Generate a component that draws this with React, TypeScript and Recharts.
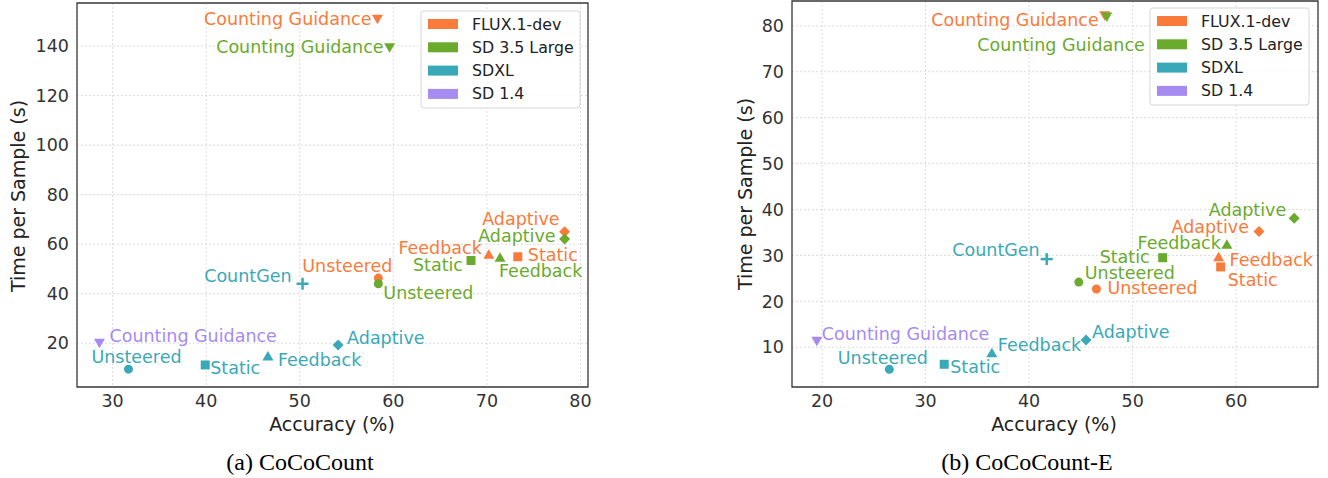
import React from "react";
import {
  ScatterChart,
  Scatter,
  XAxis,
  YAxis,
  CartesianGrid,
  ReferenceArea,
} from "recharts";

// method names per model
const methodsMain = ["Unsteered", "Static", "Feedback", "Adaptive", "Counting Guidance"];
const methodsSdxl = ["Unsteered", "Static", "Feedback", "Adaptive", "CountGen"];
const methodsSd14 = ["Counting Guidance"];

// (a) CoCoCount
const fluxAccA = [58.4, 73.3, 70.2, 78.3, 58.3];
const fluxTimeA = [46.3, 54.9, 55.7, 65.0, 151.0];
const sd35AccA = [58.4, 68.3, 71.4, 78.3, 59.6];
const sd35TimeA = [44.0, 53.4, 54.5, 62.1, 139.5];
const sdxlAccA = [31.7, 39.9, 46.6, 54.1, 50.3];
const sdxlTimeA = [9.5, 11.2, 14.6, 19.3, 44.0];
const sd14AccA = [28.6];
const sd14TimeA = [20.2];

// (b) CoCoCount-E
const fluxAccB = [46.5, 58.5, 58.3, 62.2, 47.3];
const fluxTimeB = [22.7, 27.5, 29.6, 35.2, 82.3];
const sd35AccB = [44.8, 52.9, 59.1, 65.6, 47.5];
const sd35TimeB = [24.2, 29.5, 32.3, 38.1, 82.0];
const sdxlAccB = [26.5, 31.8, 36.4, 45.5, 41.7];
const sdxlTimeB = [5.2, 6.3, 8.7, 11.6, 29.2];
const sd14AccB = [19.5];
const sd14TimeB = [11.4];

const xTicksA = [30, 40, 50, 60, 70, 80];
const yTicksA = [20, 40, 60, 80, 100, 120, 140];
const xTicksB = [20, 30, 40, 50, 60];
const yTicksB = [10, 20, 30, 40, 50, 60, 70, 80];

const models = ["FLUX.1-dev", "SD 3.5 Large", "SDXL", "SD 1.4"];
const colors = ["#F97B3B", "#6AAA2D", "#3AA9B7", "#A68BF2"];

// label placement: [dx, dy, anchor]
type Lab = [number, number, "start" | "middle" | "end"];
const fluxLabA: Lab[] = [[14, -12, "end"], [10, -2, "start"], [-7, -7, "end"], [-5, -13, "end"], [-6, 0, "end"]];
const sd35LabA: Lab[] = [[5, 9, "start"], [-8, 5, "end"], [-1, 13, "start"], [-9, -3, "end"], [-6, 0, "end"]];
const sdxlLabA: Lab[] = [[8, -12, "middle"], [5, 3, "start"], [10, 3, "start"], [9, -7, "start"], [-11, -8, "end"]];
const sd14LabA: Lab[] = [[10, -7, "start"]];
const fluxLabB: Lab[] = [[11, -1, "start"], [7, 13, "start"], [11, 3, "start"], [-10, -5, "end"], [-6, 5, "end"]];
const sd35LabB: Lab[] = [[6, -9, "start"], [-13, -1, "end"], [-6, -2, "end"], [-8, -8, "end"], [38, 28, "end"]];
const sdxlLabB: Lab[] = [[-6.5, -11, "middle"], [6, 3, "start"], [6, -8, "start"], [6, -8, "start"], [-7, -9, "end"]];
const sd14LabB: Lab[] = [[5, -7, "start"]];

const FONT = "DejaVu Sans";

function build(methods: string[], acc: number[], time: number[], labs: Lab[]) {
  return methods.map((m, i) => ({
    x: acc[i],
    y: time[i],
    method: m,
    dx: labs[i][0],
    dy: labs[i][1],
    anchor: labs[i][2],
  }));
}

function marker(method: string, cx: number, cy: number, color: string) {
  switch (method) {
    case "Unsteered":
      return <circle cx={cx} cy={cy} r={4.5} fill={color} />;
    case "Static":
      return <rect x={cx - 4.5} y={cy - 4.5} width={9} height={9} fill={color} />;
    case "Feedback":
      return (
        <polygon
          points={`${cx},${cy - 5.5} ${cx + 5.5},${cy + 4} ${cx - 5.5},${cy + 4}`}
          fill={color}
        />
      );
    case "Adaptive":
      return (
        <polygon
          points={`${cx},${cy - 5.5} ${cx + 5.5},${cy} ${cx},${cy + 5.5} ${cx - 5.5},${cy}`}
          fill={color}
        />
      );
    case "CountGen":
      return (
        <g stroke={color} strokeWidth={2.5}>
          <line x1={cx - 6} y1={cy} x2={cx + 6} y2={cy} />
          <line x1={cx} y1={cy - 6} x2={cx} y2={cy + 6} />
        </g>
      );
    default:
      return (
        <polygon
          points={`${cx - 5.5},${cy - 4} ${cx + 5.5},${cy - 4} ${cx},${cy + 5.5}`}
          fill={color}
        />
      );
  }
}

function makeShape(color: string) {
  return (props: any) => {
    const { cx, cy, payload } = props;
    return (
      <g>
        {marker(payload.method, cx, cy, color)}
        <text
          x={cx + payload.dx}
          y={cy + payload.dy}
          textAnchor={payload.anchor}
          dominantBaseline="central"
          fill={color}
          fontSize={17.5}
          fontFamily={FONT}
        >
          {payload.method}
        </text>
      </g>
    );
  };
}

interface PanelProps {
  left: number;
  width: number;
  top: number;
  right: number;
  xDomain: [number, number];
  yDomain: [number, number];
  xTicks: number[];
  yTicks: number[];
  series: any[][];
}

function Panel({ left, width, top, right, xDomain, yDomain, xTicks, yTicks, series }: PanelProps) {
  return (
    <div style={{ position: "absolute", left: left, top: 0 }}>
      <ScatterChart
        width={width}
        height={478}
        margin={{ top: top, right: right, left: left === 0 ? 17 : 12, bottom: 61 }}
      >
        <CartesianGrid stroke="#dcdcdc" strokeDasharray="2 2" />
        <XAxis
          type="number"
          dataKey="x"
          domain={xDomain}
          ticks={xTicks}
          allowDataOverflow
          height={30}
          axisLine={false}
          tickLine={false}
          tickSize={6}
          tickMargin={2}
          tick={{ fontSize: 17.5, fill: "#333", fontFamily: FONT }}
        />
        <YAxis
          type="number"
          dataKey="y"
          domain={yDomain}
          ticks={yTicks}
          allowDataOverflow
          width={60}
          axisLine={false}
          tickLine={false}
          tickSize={5}
          tickMargin={3}
          tick={{ fontSize: 17.5, fill: "#333", fontFamily: FONT }}
        />
        {series.map((d, i) => (
          <Scatter
            key={models[i]}
            name={models[i]}
            data={d}
            fill={colors[i]}
            shape={makeShape(colors[i])}
            isAnimationActive={false}
          />
        ))}
        <ReferenceArea
          x1={xDomain[0]}
          x2={xDomain[1]}
          y1={yDomain[0]}
          y2={yDomain[1]}
          fill="none"
          fillOpacity={0}
          stroke="#3a3a3a"
          strokeWidth={1.3}
          ifOverflow="visible"
        />
      </ScatterChart>
    </div>
  );
}

function LegendBox({ x, y }: { x: number; y: number }) {
  return (
    <g>
      <rect x={x} y={y} width={159} height={97} rx={3} fill="#fff" fillOpacity={0.85} stroke="#d6d6d6" />
      {models.map((m, i) => (
        <g key={m}>
          <rect x={x + 7} y={y + 8 + i * 23.3} width={30} height={10} fill={colors[i]} />
          <text
            x={x + 51}
            y={y + 13 + i * 23.3}
            dominantBaseline="central"
            fontSize={15.8}
            fontFamily={FONT}
            fill="#222"
          >
            {m}
          </text>
        </g>
      ))}
    </g>
  );
}

export default function App() {
  const seriesA = [
    build(methodsMain, fluxAccA, fluxTimeA, fluxLabA),
    build(methodsMain, sd35AccA, sd35TimeA, sd35LabA),
    build(methodsSdxl, sdxlAccA, sdxlTimeA, sdxlLabA),
    build(methodsSd14, sd14AccA, sd14TimeA, sd14LabA),
  ];
  const seriesB = [
    build(methodsMain, fluxAccB, fluxTimeB, fluxLabB),
    build(methodsMain, sd35AccB, sd35TimeB, sd35LabB),
    build(methodsSdxl, sdxlAccB, sdxlTimeB, sdxlLabB),
    build(methodsSd14, sd14AccB, sd14TimeB, sd14LabB),
  ];

  return (
    <div
      style={{
        position: "absolute",
        left: 0,
        top: 0,
        width: 1328,
        height: 478,
        background: "#fff",
        overflow: "hidden",
      }}
    >
      <Panel
        left={0}
        width={600}
        top={3}
        right={12}
        xDomain={[26.2, 80.8]}
        yDomain={[2.3, 157.4]}
        xTicks={xTicksA}
        yTicks={yTicksA}
        series={seriesA}
      />
      <Panel
        left={720}
        width={608}
        top={1}
        right={10}
        xDomain={[17.1, 67.9]}
        yDomain={[1.35, 85.4]}
        xTicks={xTicksB}
        yTicks={yTicksB}
        series={seriesB}
      />
      <svg
        width={1328}
        height={478}
        style={{ position: "absolute", left: 0, top: 0, pointerEvents: "none" }}
      >
        <LegendBox x={421} y={11} />
        <LegendBox x={1150} y={8} />
        <text x={332} y={424} textAnchor="middle" dominantBaseline="central" fontSize={19} fontFamily={FONT} fill="#222">
          Accuracy (%)
        </text>
        <text x={1054} y={424} textAnchor="middle" dominantBaseline="central" fontSize={19} fontFamily={FONT} fill="#222">
          Accuracy (%)
        </text>
        <text
          x={18}
          y={196}
          transform="rotate(-90 18 196)"
          textAnchor="middle"
          dominantBaseline="central"
          fontSize={19}
          fontFamily={FONT}
          fill="#222"
        >
          Time per Sample (s)
        </text>
        <text
          x={745}
          y={194}
          transform="rotate(-90 745 194)"
          textAnchor="middle"
          dominantBaseline="central"
          fontSize={19}
          fontFamily={FONT}
          fill="#222"
        >
          Time per Sample (s)
        </text>
        <text x={300} y={462} textAnchor="middle" dominantBaseline="central" fontSize={24} fontFamily="Liberation Serif" fill="#000">
          (a) CoCoCount
        </text>
        <text x={1027} y={462} textAnchor="middle" dominantBaseline="central" fontSize={24} fontFamily="Liberation Serif" fill="#000">
          (b) CoCoCount-E
        </text>
      </svg>
    </div>
  );
}
